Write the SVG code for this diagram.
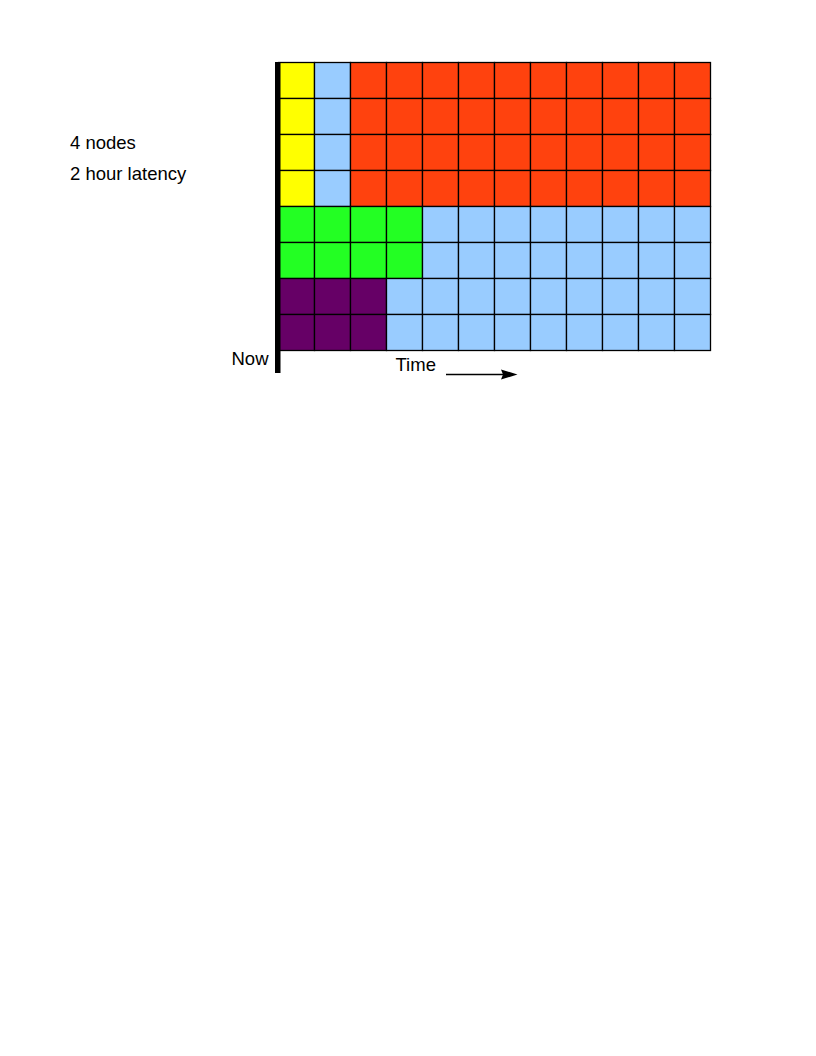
<svg xmlns="http://www.w3.org/2000/svg" width="816" height="1056" viewBox="0 0 816 1056">
<style>
text{font-family:"Liberation Sans",Arial,sans-serif;font-size:18.5px;fill:#000}
.c{stroke:#000;stroke-width:1.3}
.y{fill:#ffff00}.b{fill:#99ccff}.r{fill:#ff420e}.g{fill:#23ff23}.p{fill:#660066}
</style>
<defs>
<rect id="cy" class="c y" width="36" height="36"/>
<rect id="cb" class="c b" width="36" height="36"/>
<rect id="cr" class="c r" width="36" height="36"/>
<rect id="cg" class="c g" width="36" height="36"/>
<rect id="cp" class="c p" width="36" height="36"/>
</defs>
<rect width="816" height="1056" fill="#fff"/>
<g id="grid" transform="translate(278.5,62.5)">
<g id="rows-top">
<use href="#cy" x="0" y="0"/><use href="#cb" x="36" y="0"/>
<use href="#cr" x="72" y="0"/><use href="#cr" x="108" y="0"/><use href="#cr" x="144" y="0"/><use href="#cr" x="180" y="0"/><use href="#cr" x="216" y="0"/><use href="#cr" x="252" y="0"/><use href="#cr" x="288" y="0"/><use href="#cr" x="324" y="0"/><use href="#cr" x="360" y="0"/><use href="#cr" x="396" y="0"/>
<use href="#cy" x="0" y="36"/><use href="#cb" x="36" y="36"/>
<use href="#cr" x="72" y="36"/><use href="#cr" x="108" y="36"/><use href="#cr" x="144" y="36"/><use href="#cr" x="180" y="36"/><use href="#cr" x="216" y="36"/><use href="#cr" x="252" y="36"/><use href="#cr" x="288" y="36"/><use href="#cr" x="324" y="36"/><use href="#cr" x="360" y="36"/><use href="#cr" x="396" y="36"/>
<use href="#cy" x="0" y="72"/><use href="#cb" x="36" y="72"/>
<use href="#cr" x="72" y="72"/><use href="#cr" x="108" y="72"/><use href="#cr" x="144" y="72"/><use href="#cr" x="180" y="72"/><use href="#cr" x="216" y="72"/><use href="#cr" x="252" y="72"/><use href="#cr" x="288" y="72"/><use href="#cr" x="324" y="72"/><use href="#cr" x="360" y="72"/><use href="#cr" x="396" y="72"/>
<use href="#cy" x="0" y="108"/><use href="#cb" x="36" y="108"/>
<use href="#cr" x="72" y="108"/><use href="#cr" x="108" y="108"/><use href="#cr" x="144" y="108"/><use href="#cr" x="180" y="108"/><use href="#cr" x="216" y="108"/><use href="#cr" x="252" y="108"/><use href="#cr" x="288" y="108"/><use href="#cr" x="324" y="108"/><use href="#cr" x="360" y="108"/><use href="#cr" x="396" y="108"/>
</g>
<g id="rows-mid">
<use href="#cg" x="0" y="144"/><use href="#cg" x="36" y="144"/><use href="#cg" x="72" y="144"/><use href="#cg" x="108" y="144"/>
<use href="#cb" x="144" y="144"/><use href="#cb" x="180" y="144"/><use href="#cb" x="216" y="144"/><use href="#cb" x="252" y="144"/><use href="#cb" x="288" y="144"/><use href="#cb" x="324" y="144"/><use href="#cb" x="360" y="144"/><use href="#cb" x="396" y="144"/>
<use href="#cg" x="0" y="180"/><use href="#cg" x="36" y="180"/><use href="#cg" x="72" y="180"/><use href="#cg" x="108" y="180"/>
<use href="#cb" x="144" y="180"/><use href="#cb" x="180" y="180"/><use href="#cb" x="216" y="180"/><use href="#cb" x="252" y="180"/><use href="#cb" x="288" y="180"/><use href="#cb" x="324" y="180"/><use href="#cb" x="360" y="180"/><use href="#cb" x="396" y="180"/>
</g>
<g id="rows-bottom">
<use href="#cp" x="0" y="216"/><use href="#cp" x="36" y="216"/><use href="#cp" x="72" y="216"/>
<use href="#cb" x="108" y="216"/><use href="#cb" x="144" y="216"/><use href="#cb" x="180" y="216"/><use href="#cb" x="216" y="216"/><use href="#cb" x="252" y="216"/><use href="#cb" x="288" y="216"/><use href="#cb" x="324" y="216"/><use href="#cb" x="360" y="216"/><use href="#cb" x="396" y="216"/>
<use href="#cp" x="0" y="252"/><use href="#cp" x="36" y="252"/><use href="#cp" x="72" y="252"/>
<use href="#cb" x="108" y="252"/><use href="#cb" x="144" y="252"/><use href="#cb" x="180" y="252"/><use href="#cb" x="216" y="252"/><use href="#cb" x="252" y="252"/><use href="#cb" x="288" y="252"/><use href="#cb" x="324" y="252"/><use href="#cb" x="360" y="252"/><use href="#cb" x="396" y="252"/>
</g>
</g>
<g id="now-axis">
<rect x="275" y="62" width="5.5" height="311" fill="#000"/>
</g>
<g id="connectors">
<line x1="446" y1="374.5" x2="503" y2="374.5" stroke="#000" stroke-width="1.3"/>
<polygon points="501,369.5 517.5,374.5 501,379.5 503,374.5" fill="#000"/>
</g>
<g id="labels">
<text x="70" y="149">4 nodes</text>
<text x="70" y="180">2 hour latency</text>
<text x="231.5" y="365">Now</text>
<text x="395.5" y="371">Time</text>
</g>
</svg>
